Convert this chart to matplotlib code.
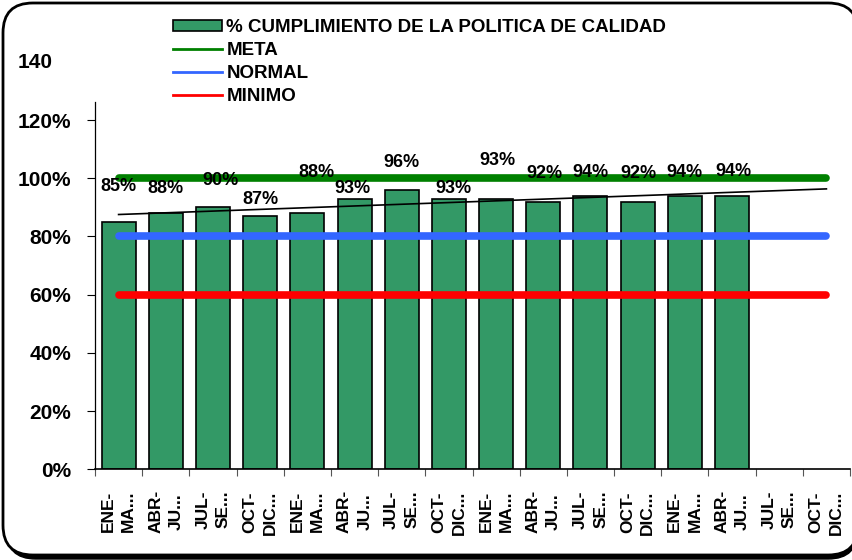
import numpy as np
import matplotlib
matplotlib.use("Agg")
import matplotlib.pyplot as plt
from matplotlib.patches import FancyBboxPatch, Patch
from matplotlib.lines import Line2D
from matplotlib.ticker import FixedLocator

plt.rcParams['font.family'] = ['Liberation Sans', 'DejaVu Sans']
plt.rcParams['font.weight'] = 'bold'

# ---- data ----
categories = ["ENE-\nMA...", "ABR-\nJU...", "JUL-\nSE...", "OCT-\nDIC...",
              "ENE-\nMA...", "ABR-\nJU...", "JUL-\nSE...", "OCT-\nDIC...",
              "ENE-\nMA...", "ABR-\nJU...", "JUL-\nSE...", "OCT-\nDIC...",
              "ENE-\nMA...", "ABR-\nJU...", "JUL-\nSE...", "OCT-\nDIC..."]
cumplimiento = [85, 88, 90, 87, 88, 93, 96, 93, 93, 92, 94, 92, 94, 94]
meta = [100] * 16
normal = [80] * 16
minimo = [60] * 16
yticks = [0, 20, 40, 60, 80, 100, 120]
ytick_labels = ["0%", "20%", "40%", "60%", "80%", "100%", "120%"]

# label placement (style only)
label_y = [97.2, 96.6, 99.3, 92.8, 102.0, 96.6, 105.5, 96.6, 106.2, 101.7, 102.0, 101.7, 102.0, 102.4]
label_dx = [0, 0, 0.17, 0, 0.2, -0.04, 0, 0.1, 0.02, 0.02, 0, 0.02, 0, 0.02]

W, H = 852, 560
fig = plt.figure(figsize=(W / 100, H / 100), dpi=100)
fig.patch.set_facecolor('white')

# rounded frame with shadow
shadow = FancyBboxPatch((6 / W, 1 - 559 / H), 852 / W, 553 / H,
                        boxstyle="round,pad=0,rounding_size=0.035",
                        transform=fig.transFigure, facecolor='black',
                        edgecolor='black', lw=1, zorder=-2, mutation_aspect=W / H)
frame = FancyBboxPatch((3 / W, 1 - 555 / H), 855 / W, 552 / H,
                       boxstyle="round,pad=0,rounding_size=0.035",
                       transform=fig.transFigure, facecolor='white',
                       edgecolor='black', lw=2.0, zorder=-1, mutation_aspect=W / H)
fig.patches.extend([shadow, frame])

ax = fig.add_axes([95 / W, 1 - 469.3 / H, 755 / W, (469.3 - 102) / H])
ax.set_facecolor('none')

n = len(categories)
xs = np.arange(n)
xb = np.arange(len(cumplimiento))
bar_color = '#339966'
ax.bar(xb, cumplimiento, width=0.72, color=bar_color, edgecolor='black', linewidth=1.2, zorder=2)

ax.plot(xs, meta, color='#008000', lw=5.5, solid_capstyle='round', zorder=3)
ax.plot(xs, normal, color='#3366FF', lw=5.5, solid_capstyle='round', zorder=3)
ax.plot(xs, minimo, color='#FF0000', lw=5.5, solid_capstyle='round', zorder=3)

# linear trend
coef = np.polyfit(xb, cumplimiento, 1)
tx = np.array([0, n - 1])
ax.plot(tx, np.polyval(coef, tx), color='black', lw=1.2, zorder=4)

for i, v in enumerate(cumplimiento):
    ax.text(i + label_dx[i], label_y[i], f"{v}%", ha='center', va='center',
            fontsize=13, fontweight='bold', zorder=5)

ax.set_xlim(-0.5, n - 0.5)
ax.set_ylim(0, 126.2)
ax.set_yticks(yticks)
ax.set_yticklabels(ytick_labels, fontsize=15, fontweight='bold')
ax.tick_params(axis='y', length=6, width=0.8, pad=11)

ax.set_xticks(xs)
ax.set_xticklabels(categories, rotation=90, fontsize=12.5, fontweight='bold',
                   ha='center', va='top', linespacing=1.45)
ax.tick_params(axis='x', which='major', length=0, pad=15)
ax.xaxis.set_minor_locator(FixedLocator(np.arange(-0.5, n, 1.0)))
ax.tick_params(axis='x', which='minor', length=5, width=0.8, color='#555555')

for s in ['top', 'right']:
    ax.spines[s].set_visible(False)
ax.spines['left'].set_linewidth(0.9)
ax.spines['bottom'].set_linewidth(1.2)

fig.text(18 / W, 1 - 62 / H, "140", ha='left', va='center', fontsize=15, fontweight='bold')

handles = [Patch(facecolor=bar_color, edgecolor='black', linewidth=1.2),
           Line2D([], [], color='#008000', lw=2),
           Line2D([], [], color='#3366FF', lw=2),
           Line2D([], [], color='#FF0000', lw=2)]
labels = ["% CUMPLIMIENTO DE LA POLITICA DE CALIDAD", "META", "NORMAL", "MINIMO"]
fig.legend(handles, labels, loc='upper left', bbox_to_anchor=(173 / W, 1 - 19 / H),
           frameon=False, borderpad=0, borderaxespad=0, handlelength=2.6,
           handletextpad=0.25, labelspacing=0.32, handleheight=0.55,
           prop={'size': 13.5, 'weight': 'bold'})

fig.savefig("out.png", dpi=100)
